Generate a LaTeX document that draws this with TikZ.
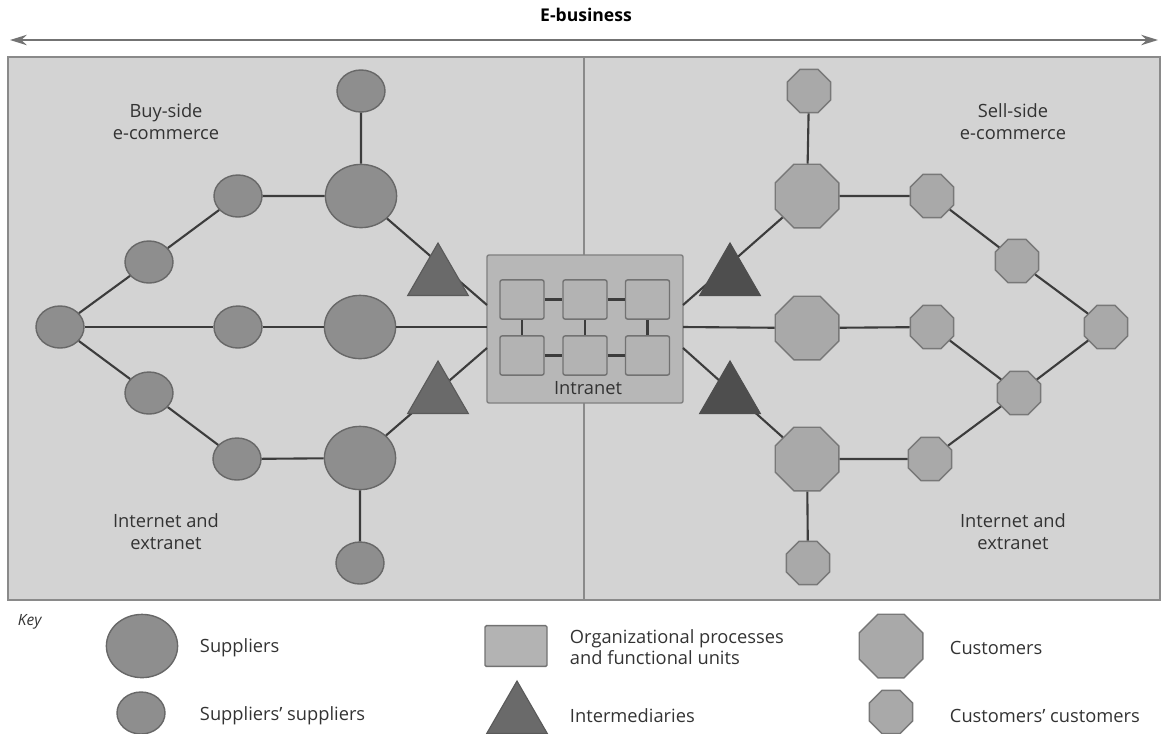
\documentclass[tikz,border=0pt]{standalone}
\usepackage{fontspec}
\setmainfont{Open Sans}
\usetikzlibrary{arrows.meta,shapes.geometric}

\definecolor{panelfill}{HTML}{D3D3D3}
\definecolor{paneledge}{HTML}{8A8A8A}
\definecolor{supfill}{HTML}{8E8E8E}
\definecolor{supedge}{HTML}{686868}
\definecolor{custfill}{HTML}{A9A9A9}
\definecolor{custedge}{HTML}{787878}
\definecolor{orgfill}{HTML}{B3B3B3}
\definecolor{orgedge}{HTML}{727272}
\definecolor{midfill}{HTML}{6A6A6A}
\definecolor{middark}{HTML}{4E4E4E}
\definecolor{linkcol}{HTML}{3C3C3C}
\definecolor{txtcol}{HTML}{333333}

\begin{document}
\begin{tikzpicture}[x=0.025cm, y=-0.025cm,
    supplier/.style={ellipse, draw=supedge, fill=supfill, line width=1pt, inner sep=0pt, minimum width=1.78cm, minimum height=1.58cm},
    supp2/.style={supplier, minimum width=1.2cm, minimum height=1.05cm},
    customer/.style={regular polygon, regular polygon sides=8, draw=custedge, fill=custfill, line width=1pt, inner sep=0pt, minimum size=1.72cm},
    cust2/.style={customer, minimum size=1.17cm},
    intermed/.style={regular polygon, regular polygon sides=3, draw=midfill!85!black, fill=midfill, line width=0.8pt, inner sep=0pt, minimum size=1.75cm},
    orgunit/.style={draw=orgedge, fill=orgfill, line width=1pt, rounded corners=1.5pt, minimum width=1.1cm, minimum height=0.98cm},
    lnk/.style={draw=linkcol, line width=1.5pt},
    lbl/.style={font=\fontsize{13}{16}\selectfont, text=txtcol, align=center},
    keytxt/.style={lbl, anchor=west, align=left}
]
\useasboundingbox (0,0) rectangle (1161,733);

% E-business span
\node[font=\bfseries\fontsize{12.5}{15}\selectfont] (ebiz) at (586,15) {E-business};
\coordinate (ebL) at (10,40);
\coordinate (ebR) at (1158,40);
\draw[draw=black!55, line width=1.2pt, {Stealth[length=0.42cm,width=0.26cm]}-{Stealth[length=0.42cm,width=0.26cm]}] (ebL) -- (ebR);

% panel and divider
\node[draw=paneledge, fill=panelfill, line width=1pt, inner sep=0pt, minimum width=28.8cm, minimum height=13.575cm] (panel) at (584,328.5) {};
\draw[draw=paneledge, line width=1pt] (panel.north) -- (panel.south);

\node[lbl] (buy) at (166,121.5) {Buy-side\\e-commerce};
\node[lbl] (netL) at (166,531.5) {Internet and\\extranet};
\node[lbl] (sell) at (1013,121.5) {Sell-side\\e-commerce};
\node[lbl] (netR) at (1013,531.5) {Internet and\\extranet};

% intranet
\node[draw=orgedge!90, fill=orgfill!95!white, line width=1pt, rounded corners=1.5pt, minimum width=4.9cm, minimum height=3.7cm] (intra) at (585,329) {};
\node[orgunit] (u11) at (522,299.5) {};
\node[orgunit] (u12) at (585,299.5) {};
\node[orgunit] (u13) at (647.5,299.5) {};
\node[orgunit] (u21) at (522,355.5) {};
\node[orgunit] (u22) at (585,355.5) {};
\node[orgunit] (u23) at (647.5,355.5) {};
\node[lbl] (intxt) at (588,388) {Intranet};
\draw[lnk] (u11) -- (u12) -- (u13);
\draw[lnk] (u21) -- (u22) -- (u23);
\draw[lnk] (u11) -- (u21);
\draw[lnk] (u12) -- (u22);
\draw[lnk] (u13) -- (u23);

\coordinate (inU) at (487,305);
\coordinate (inM) at (487,327);
\coordinate (inL) at (487,348);
\coordinate (outU) at (683,305);
\coordinate (outM) at (683,327);
\coordinate (outL) at (683,348);

% buy side
\node[supp2] (hubL) at (60,327) {};
\node[supp2] (uA) at (149,262) {};
\node[supp2] (uB) at (238,196) {};
\node[supplier] (bigLU) at (361,196) {};
\node[supp2] (topL) at (361,91) {};
\node[supp2] (mA) at (238,327) {};
\node[supplier] (bigLM) at (360,327) {};
\node[supp2] (lA) at (149,393) {};
\node[supp2] (lB) at (237,459) {};
\node[supplier] (bigLL) at (360,458) {};
\node[supp2] (botL) at (360,563) {};

\draw[lnk] (hubL) -- (uA) -- (uB) -- (bigLU) -- (topL);
\draw[lnk] (hubL) -- (mA) -- (bigLM) -- (inM);
\draw[lnk] (hubL) -- (lA) -- (lB) -- (bigLL) -- (botL);
\draw[lnk] (bigLU) -- (inU);
\draw[lnk] (bigLL) -- (inL);

% sell side
\node[customer] (bigRU) at (807,196) {};
\node[cust2] (topR) at (809,91) {};
\node[cust2] (rUA) at (932,196) {};
\node[cust2] (rUB) at (1017,261) {};
\node[cust2] (farR) at (1106,327) {};
\node[customer] (bigRM) at (807,328) {};
\node[cust2] (rMA) at (932,327) {};
\node[cust2] (rMB) at (1019,393) {};
\node[customer] (bigRL) at (807,459) {};
\node[cust2] (rLA) at (930,459) {};
\node[cust2] (botR) at (808,563) {};

\draw[lnk] (outU) -- (bigRU) -- (topR);
\draw[lnk] (bigRU) -- (rUA) -- (rUB) -- (farR);
\draw[lnk] (outM) -- (bigRM) -- (rMA) -- (rMB) -- (farR);
\draw[lnk] (rMB) -- (rLA) -- (bigRL) -- (botR);
\draw[lnk] (bigRL) -- (outL);

% intermediaries sit on the links
\node[intermed] (tLU) at (438,278) {};
\node[intermed] (tLL) at (438,396) {};
\node[intermed, fill=middark, draw=middark] (tRU) at (730,278) {};
\node[intermed, fill=middark, draw=middark] (tRL) at (730,396) {};

% key
\node[lbl, font=\itshape\fontsize{11}{13}\selectfont, anchor=west] (key) at (13,622) {Key};
\node[supplier] (kSup) at (142,646) {};
\node[keytxt] (kSupT) at (195,648) {Suppliers};
\node[supp2] (kSup2) at (141,713) {};
\node[keytxt] (kSup2T) at (195,716) {Suppliers’ suppliers};
\node[orgunit, minimum width=1.55cm, minimum height=1.02cm, rounded corners=1pt] (kOrg) at (516,646) {};
\node[keytxt, font=\fontsize{13}{14.5}\selectfont] (kOrgT) at (565,647) {Organizational processes\\and functional units};
\node[intermed] (kMid) at (517,716) {};
\node[keytxt] (kMidT) at (565,716) {Intermediaries};
\node[customer] (kCus) at (891,646) {};
\node[keytxt] (kCusT) at (945,648) {Customers};
\node[cust2] (kCus2) at (891,712) {};
\node[keytxt] (kCus2T) at (945,716) {Customers’ customers};
\end{tikzpicture}
\end{document}
